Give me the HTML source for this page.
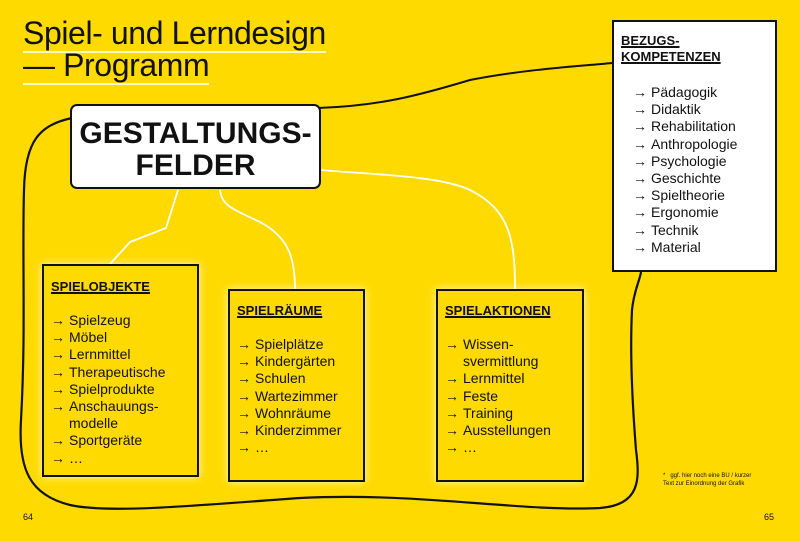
<!DOCTYPE html>
<html><head><meta charset="utf-8"><style>
*{margin:0;padding:0;box-sizing:border-box}
body{width:800px;height:541px;background:#FFDA00;position:relative;overflow:hidden;font-family:"Liberation Sans",sans-serif;color:#111}
.t{position:absolute;font-size:32px;line-height:33px;left:23px;letter-spacing:-0.4px}
.t span{border-bottom:2px solid #fff8c8;padding-bottom:0px}
.box{position:absolute;border:2px solid #111;box-shadow:0 0 8px rgba(255,255,230,.8)}
.h{font-weight:bold;font-size:13px;text-decoration:underline;text-decoration-thickness:2px;line-height:16px}
ul{list-style:none;font-size:14px;line-height:17.2px}
li{padding-left:18px;position:relative}
li:before{content:"→";position:absolute;left:0;font-size:14px}
.num{position:absolute;top:512px;font-size:9px}
</style></head><body>
<svg width="800" height="541" style="position:absolute;left:0;top:0">
<path d="M72,118 C40,125 25,140 24,190 C22,260 26,330 21,420 C18,470 30,495 70,505 C110,514 200,505 300,498 C420,492 520,512 600,508 C640,505 640,480 636,450 C632,400 630,350 632,310 C634,290 640,280 641,272" fill="none" stroke="#111" stroke-width="2.2"/>
<path d="M318,108 C380,106 420,95 470,80 C520,70 570,67 612,63" fill="none" stroke="#111" stroke-width="2"/>
<path d="M178,190 L166,228 L130,242 L110,264" fill="none" stroke="#fff" stroke-width="1.8"/>
<path d="M220,190 C222,205 230,208 260,222 C290,238 295,260 295,290" fill="none" stroke="#fff" stroke-width="1.8"/>
<path d="M320,170 C380,175 440,176 470,190 C510,210 515,240 515,290" fill="none" stroke="#fff" stroke-width="1.8"/>
</svg>
<div class="t" style="top:17px"><span>Spiel- und Lerndesign</span></div>
<div class="t" style="top:49px"><span>— Programm</span></div>
<div class="box" style="left:70px;top:104px;width:251px;height:85px;background:#fff;border-radius:7px;box-shadow:none;text-align:center;font-weight:bold;font-size:30px;line-height:32px;padding-top:12px">GESTALTUNGS-<br>FELDER</div>
<div class="box" style="left:612px;top:20px;width:165px;height:252px;background:#fff;box-shadow:none;padding:11px 0 0 7px">
<div class="h">BEZUGS-<br>KOMPETENZEN</div>
<ul style="margin:19px 0 0 12px">
<li>Pädagogik</li><li>Didaktik</li><li>Rehabilitation</li><li>Anthropologie</li><li>Psychologie</li><li>Geschichte</li><li>Spieltheorie</li><li>Ergonomie</li><li>Technik</li><li>Material</li></ul></div>
<div class="box" style="left:42px;top:264px;width:157px;height:213px;padding:13px 0 0 7px">
<div class="h">SPIELOBJEKTE</div>
<ul style="margin:17px 0 0 0"><li>Spielzeug</li><li>Möbel</li><li>Lernmittel</li><li>Therapeutische</li><li>Spielprodukte</li><li>Anschauungs-<br>modelle</li><li>Sportgeräte</li><li>…</li></ul></div>
<div class="box" style="left:228px;top:289px;width:137px;height:193px;padding:12px 0 0 7px">
<div class="h">SPIELRÄUME</div>
<ul style="margin:17px 0 0 0"><li>Spielplätze</li><li>Kindergärten</li><li>Schulen</li><li>Wartezimmer</li><li>Wohnräume</li><li>Kinderzimmer</li><li>…</li></ul></div>
<div class="box" style="left:436px;top:289px;width:148px;height:193px;padding:12px 0 0 7px">
<div class="h">SPIELAKTIONEN</div>
<ul style="margin:17px 0 0 0"><li>Wissen-<br>svermittlung</li><li>Lernmittel</li><li>Feste</li><li>Training</li><li>Ausstellungen</li><li>…</li></ul></div>
<div style="position:absolute;left:663px;top:472px;font-size:6px;line-height:8px">*&nbsp;&nbsp; ggf. hier noch eine BU / kurzer<br>Text zur Einordnung der Grafik</div>
<div class="num" style="left:23px">64</div>
<div class="num" style="left:764px">65</div>
</body></html>
